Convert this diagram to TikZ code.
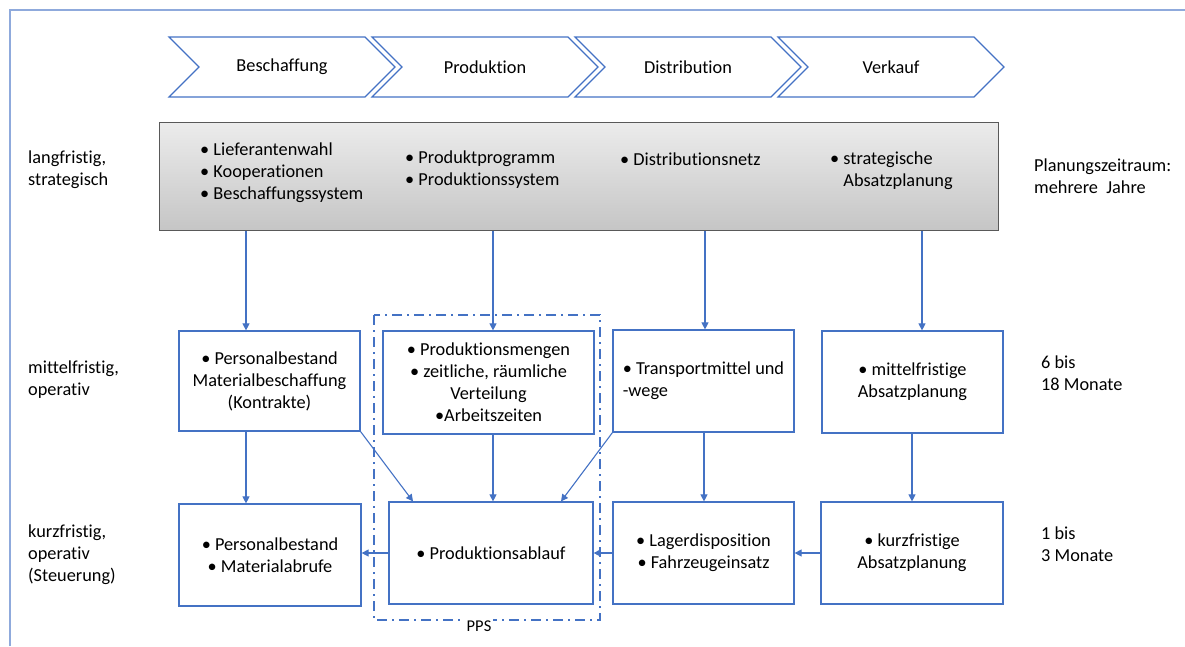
\documentclass[tikz,border=0pt]{standalone}
\usepackage{fontspec}
\setmainfont{Carlito}[Ligatures=NoCommon]
\usetikzlibrary{arrows.meta,calc}
\definecolor{ublue}{HTML}{4472C4}
\definecolor{frameblue}{HTML}{8FAADC}
\begin{document}
\begin{tikzpicture}[x=1pt,y=-1pt,
  every node/.style={font=\fontsize{18.3}{22}\selectfont, inner sep=0pt},
  box/.style={draw=ublue, line width=1.2pt, align=center},
  chevron/.style={draw=ublue, line width=1.2pt},
  arr/.style={draw=ublue, line width=1.1pt, -{Triangle[length=7pt,width=7pt]}},
  lbl/.style={anchor=west, align=left},
  ppsframe/.style={draw=ublue, line width=1.2pt, dash pattern=on 10pt off 5pt on 2pt off 5pt},
]
\useasboundingbox (0,0) rectangle (1185,646);
% outer frame
\draw[frameblue, line width=1.2pt] (10,646) -- (10,10) -- (1185,10);

% process chevrons
\foreach \i/\t in {0/Beschaffung,1/Produktion,2/Distribution,3/Verkauf}{
  \pgfmathsetmacro\xo{169+203*\i}
  \draw[chevron] (\xo,37) -- ++(196,0) -- ++(30,30) -- ++(-30,30) -- ++(-196,0) -- ++(30,-30) -- cycle;
  \node (ph\i) at (\xo+113,67) {\t};
}

% strategic level
\node[draw=gray!70!black, line width=1pt, top color=gray!15, bottom color=gray!45,
      minimum width=839pt, minimum height=108pt] (strat) at (578.5,176) {};
\node[lbl] (tb) at (200,173) {• Lieferantenwahl\\• Kooperationen\\• Beschaffungssystem};
\node[lbl] (tp) at (405,170) {• Produktprogramm\\• Produktionssystem};
\node[lbl] (td) at (620,159) {• Distributionsnetz};
\node[lbl] (tv) at (830,170.5) {• strategische\\\hphantom{• }Absatzplanung};

% horizon labels
\node[lbl] (l1) at (28,170) {langfristig,\\strategisch};
\node[lbl] (l2) at (28,379.5) {mittelfristig,\\operativ};
\node[lbl] (l3) at (28,555) {kurzfristig,\\operativ\\(Steuerung)};
\node[lbl] (r1) at (1034,176.5) {Planungszeitraum:\\mehrere\ \ Jahre};
\node[lbl] (r2) at (1041,373) {6 bis\\18 Monate};
\node[lbl] (r3) at (1041,544.5) {1 bis\\3 Monate};

% PPS frame
\draw[ppsframe] (374,315) rectangle (600,620);
\node[fill=white, inner sep=2pt, font=\fontsize{16.5}{19}\selectfont] (pps) at (479,626) {PPS};

% medium-term level
\node[box, minimum width=181pt, minimum height=100pt] (m1) at (269.5,381)
  {• Personalbestand\\Materialbeschaffung\\(Kontrakte)};
\node[box, minimum width=211pt, minimum height=103pt] (m2) at (488.5,382.5)
  {• Produktionsmengen\\• zeitliche, räumliche\\Verteilung\\•Arbeitszeiten};
\node[box, minimum width=181pt, minimum height=102pt, align=left] (m3) at (703.5,381)
  {• Transportmittel und\\-wege};
\node[box, minimum width=181pt, minimum height=102pt] (m4) at (912.5,382)
  {• mittelfristige\\Absatzplanung};

% short-term level
\node[box, minimum width=182pt, minimum height=102pt] (b1) at (270,555)
  {• Personalbestand\\• Materialabrufe};
\node[box, minimum width=204pt, minimum height=102pt] (b2) at (491,553)
  {• Produktionsablauf};
\node[box, minimum width=181pt, minimum height=102pt] (b3) at (703.5,553)
  {• Lagerdisposition\\• Fahrzeugeinsatz};
\node[box, minimum width=182pt, minimum height=102pt] (b4) at (912,553)
  {• kurzfristige\\Absatzplanung};

% connector columns
\coordinate (c1) at (246,0);
\coordinate (c2) at (493,0);
\coordinate (c3) at (705,0);
\coordinate (c4) at (922,0);
\coordinate (c5) at (704,0);
\coordinate (c6) at (912,0);
\coordinate (c7) at (413,0);
\coordinate (c8) at (561,0);

\draw[arr] (c1 |- strat.south) -- (c1 |- m1.north);
\draw[arr] (c2 |- strat.south) -- (c2 |- m2.north);
\draw[arr] (c3 |- strat.south) -- (c3 |- m3.north);
\draw[arr] (c4 |- strat.south) -- (c4 |- m4.north);

\draw[arr] (c1 |- m1.south) -- (c1 |- b1.north);
\draw[arr] (c2 |- m2.south) -- (c2 |- b2.north);
\draw[arr] (c5 |- m3.south) -- (c5 |- b3.north);
\draw[arr] (c6 |- m4.south) -- (c6 |- b4.north);
\draw[arr] (m1.south east) -- (c7 |- b2.north);
\draw[arr] (m3.south west) -- (c8 |- b2.north);

\draw[arr] (b4.west) -- (b3.east);
\draw[arr] (b3.west) -- (b2.east);
\draw[arr] (b2.west) -- (b1.east |- b2.west);
\end{tikzpicture}
\end{document}
